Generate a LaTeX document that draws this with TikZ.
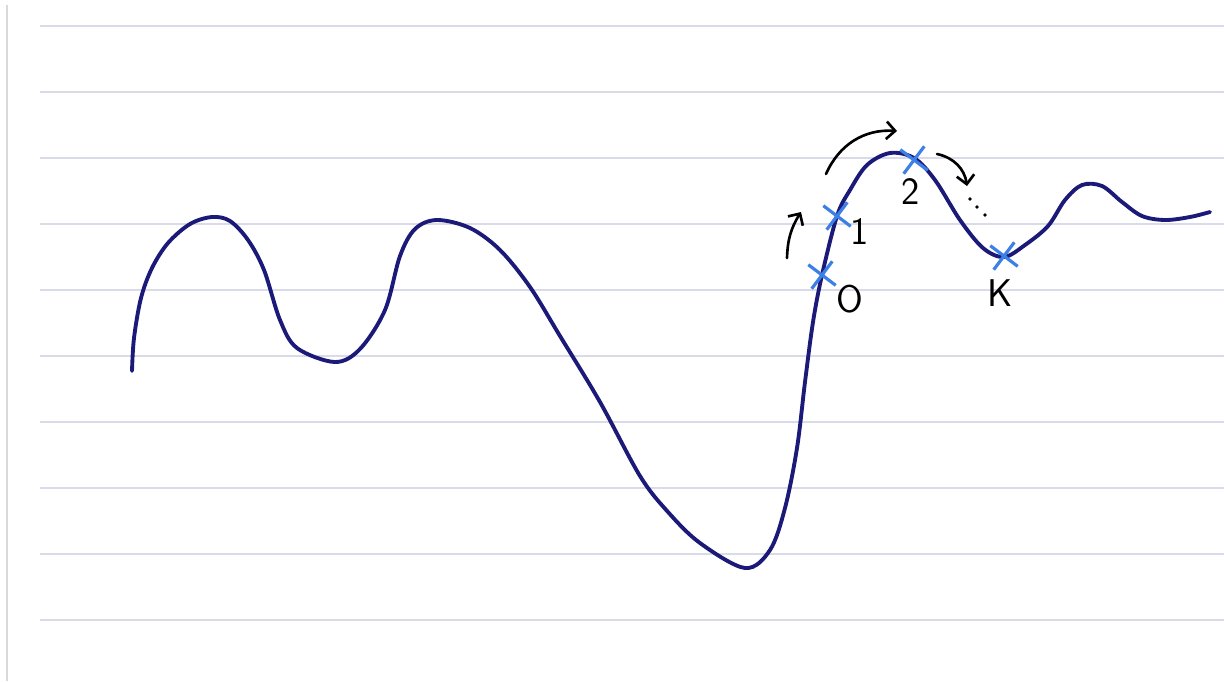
\documentclass[tikz,border=0pt]{standalone}
\usepackage{tikz}
\usetikzlibrary{shapes.misc, arrows.meta, positioning}

\definecolor{rulegray}{HTML}{D9DCE8}
\definecolor{inkblue}{HTML}{1C1A78}
\definecolor{markblue}{HTML}{3C7FE6}

\tikzset{
  rule/.style={rulegray, line width=0.8pt},
  mark x/.style={cross out, draw=markblue, line width=1.8pt, minimum size=12pt, inner sep=0pt, rotate=8},
  lbl/.style={font=\fontsize{22}{26}\selectfont\sffamily},
  move/.style={-{Straight Barb[length=5pt,width=10pt]}, line width=1.5pt, line cap=round, black}
}

\begin{document}
\begin{tikzpicture}[x=0.02cm, y=-0.02cm]
        \useasboundingbox (0,0) rectangle (1224,681);
        % Lignes du cahier
        \draw[gray!30, line width=1pt] (7,5) -- (7,681);
        \foreach \y in {26,92,158,224,290,356,422,488,554,620} {
            \draw[rule] (40,\y) -- (1224,\y);
        }
        
        % Courbe
        \draw[inkblue, line width=2.2pt, line cap=round] plot[smooth, tension=0.55] coordinates {
            (132,371) (134,338) (141,298) (152,268) (168,243) (190,224) (212,217)
            (230,221) (248,240) (264,270)
            (280,320) (297,348) (335,362) (360,349) (385,310) (400,256) (415,229)
            (437,220) (470,228) (500,250) (530,287) (560,336) (600,402) (640,476)
            (668,512) (700,543) (745,568) (770,550) (785,508) (797,448) (805,382)
            (813,322) (822,275) (837,216) (850,190) (867,165) (890,153) (914,158)
            (935,180) (960,220) (983,248) (1004,257) (1025,245) (1048,226) (1065,200)
            (1082,185) (1102,186) (1122,202) (1142,216) (1165,220) (1190,217) (1210,212)};
        
        % Points
        \node[mark x] (m0) at (822,275) {};
        \node[mark x] (m1) at (837,216) {};
        \node[mark x] (m2) at (914,160) {};
        \node[mark x] (mK) at (1004,256) {};
        
        % Etiquettes
        \node[lbl] (l0) at (850,299) {O};
        \node[lbl] (l1) at (860,232) {1};
        \node[lbl] (l2) at (911,192) {2};
        \node[lbl] (lK) at (1000,293) {K};
        
        % Fleches
        \coordinate (a0) at (787,258);
        \coordinate (a1) at (801,212);
        \coordinate (b0) at (826,174);
        \coordinate (b1) at (897,131);
        \coordinate (c0) at (937,154);
        \coordinate (c1) at (967,186);
        \draw[move] (a0) to[bend left=15] (a1);
        \draw[move] (b0) to[bend left=35] (b1);
        \draw[move] (c0) to[bend left=35] (c1);
        
        % Pointilles
        \foreach \p in {(970,199),(977,207),(985,215)} {
            \fill[black] \p circle (1.1pt);
        }
      \end{tikzpicture}
\end{document}
